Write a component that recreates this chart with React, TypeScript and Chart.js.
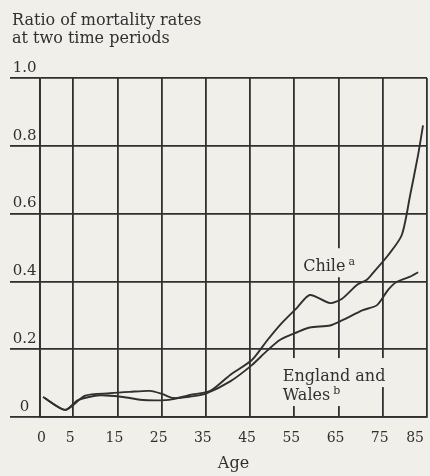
import React, { useEffect, useRef } from "react";
import { Chart, registerables } from "chart.js";

Chart.register(...registerables);

// ---- data ----
// x positions in years of age on the figure's axis (the left axis line sits at AXIS_START)
const chileAges = [-1.8, 3.2, 6.1, 11.1, 16.3, 20.1, 24.0, 27.3, 31.4, 36.0, 40.5, 45.4, 48.8, 51.8, 55.6, 58.5, 63.1, 65.8, 69.2, 71.4, 72.8, 76.2, 79.3, 81.2, 83.0, 84.1];
const chileRatios = [0.059, 0.021, 0.05, 0.064, 0.059, 0.051, 0.049, 0.052, 0.065, 0.077, 0.124, 0.168, 0.225, 0.272, 0.322, 0.36, 0.336, 0.349, 0.39, 0.405, 0.425, 0.477, 0.537, 0.655, 0.774, 0.86];

const englandAges = [-1.8, 3.2, 7.7, 13.3, 17.8, 22.4, 25.1, 27.6, 31.4, 35.0, 40.5, 45.4, 48.8, 51.8, 55.6, 58.5, 63.1, 65.8, 70.5, 73.7, 76.2, 78.2, 81.2, 83.0];
const englandRatios = [0.059, 0.021, 0.063, 0.07, 0.074, 0.077, 0.068, 0.056, 0.06, 0.069, 0.105, 0.153, 0.195, 0.228, 0.25, 0.264, 0.27, 0.285, 0.315, 0.33, 0.375, 0.399, 0.414, 0.427];

const AXIS_START = -2.5;
const AXIS_END = 85;
const xTickValues = [AXIS_START, 5, 15, 25, 35, 45, 55, 65, 75, 85];
const xTickLabels = ["0", "5", "15", "25", "35", "45", "55", "65", "75", "85"];
const yTickValues = [0, 0.2, 0.4, 0.6, 0.8, 1.0];
const yTickLabels = ["0", "0.2", "0.4", "0.6", "0.8", "1.0"];

const titleLines = ["Ratio of mortality rates", "at two time periods"];
const xTitle = "Age";

const seriesLabels = [
  { lines: [{ text: "Chile", sup: "a" }], age: 57.0, value: 0.43 },
  { lines: [{ text: "England and", sup: "" }, { text: "Wales", sup: "b" }], age: 52.4, value: 0.106 },
];

// ---- styles ----
const BG = "#f0efea";
const INK = "#303030";
const FAMILY = '"DejaVu Serif", serif';

const labelPlugin = {
  id: "seriesLabels",
  afterLayout(chart: any) {
    // let the y tick labels use the whole left margin (no clipping at the layout padding)
    chart.scales.y.left = 0;
  },
  afterDatasetsDraw(chart: any) {
    const { ctx } = chart;
    const xs = chart.scales.x;
    const ys = chart.scales.y;
    ctx.save();
    for (const lab of seriesLabels) {
      const left = xs.getPixelForValue(lab.age);
      const base0 = ys.getPixelForValue(lab.value);
      let prevBottom = base0 - 23;
      lab.lines.forEach((ln, i) => {
        const baseline = base0 + i * 19;
        ctx.font = `16px ${FAMILY}`;
        const w = ctx.measureText(ln.text).width;
        ctx.font = `11px ${FAMILY}`;
        const sw = ln.sup ? ctx.measureText(ln.sup).width + 3 : 0;
        const top = prevBottom;
        const bottom = baseline + 6;
        ctx.fillStyle = BG;
        ctx.fillRect(left - 4, top, w + sw + 8, bottom - top);
        prevBottom = bottom;
        ctx.fillStyle = INK;
        ctx.textBaseline = "alphabetic";
        ctx.textAlign = "left";
        ctx.font = `16px ${FAMILY}`;
        ctx.fillText(ln.text, left, baseline);
        if (ln.sup) {
          ctx.font = `11px ${FAMILY}`;
          ctx.fillText(ln.sup, left + w + 3, baseline - 6);
        }
      });
    }
    ctx.restore();
  },
};

export default function App() {
  const ref = useRef<HTMLCanvasElement | null>(null);

  useEffect(() => {
    if (!ref.current) return;
    const chart = new Chart(ref.current, {
      type: "line",
      data: {
        datasets: [
          {
            label: "Chile",
            data: chileAges.map((a, i) => ({ x: a, y: chileRatios[i] })),
            borderColor: INK,
            borderWidth: 1.9,
            pointRadius: 0,
            tension: 0.25,
            fill: false,
          },
          {
            label: "England and Wales",
            data: englandAges.map((a, i) => ({ x: a, y: englandRatios[i] })),
            borderColor: INK,
            borderWidth: 1.9,
            pointRadius: 0,
            tension: 0.25,
            fill: false,
          },
        ],
      },
      options: {
        responsive: false,
        animation: false,
        devicePixelRatio: 1,
        layout: { padding: { left: 12, top: 12, right: 3, bottom: 0 } },
        plugins: {
          legend: { display: false },
          tooltip: { enabled: false },
          title: {
            display: true,
            text: titleLines,
            align: "start",
            color: INK,
            font: { family: FAMILY, size: 16, weight: "normal", lineHeight: 1.125 },
            padding: { top: 0, bottom: 30 },
          },
        },
        scales: {
          x: {
            type: "linear",
            min: AXIS_START,
            max: AXIS_END,
            afterBuildTicks: (s: any) => {
              s.ticks = xTickValues.map((v) => ({ value: v }));
            },
            afterFit: (s: any) => {
              s.height = 59;
              s.paddingLeft = 0;
              s.paddingRight = 0;
            },
            ticks: {
              callback: (_v: any, i: number) => xTickLabels[i],
              align: "inner",
              labelOffset: -3,
              padding: 13,
              autoSkip: false,
              maxRotation: 0,
              color: INK,
              font: { family: FAMILY, size: 14 },
            },
            grid: { color: INK, lineWidth: 1.8, drawTicks: false },
            border: { display: true, color: INK, width: 1.8 },
            title: {
              display: true,
              text: xTitle,
              color: INK,
              font: { family: FAMILY, size: 16 },
              padding: { top: 6, bottom: 3 },
            },
          },
          y: {
            type: "linear",
            min: 0,
            max: 1,
            afterBuildTicks: (s: any) => {
              s.ticks = yTickValues.map((v) => ({ value: v }));
            },
            afterFit: (s: any) => {
              s.width = 28;
            },
            ticks: {
              callback: (_v: any, i: number) => yTickLabels[i],
              crossAlign: "center",
              padding: -26.5,
              labelOffset: -10,
              color: INK,
              font: { family: FAMILY, size: 15 },
            },
            grid: { color: INK, lineWidth: 1.8, tickLength: 30 },
            border: { display: true, color: INK, width: 1.8 },
          },
        },
      },
      plugins: [labelPlugin],
    } as any);
    return () => chart.destroy();
  }, []);

  return (
    <div style={{ position: "absolute", left: 0, top: 0, width: 430, height: 476, background: BG }}>
      <canvas ref={ref} width={430} height={476} style={{ display: "block" }} />
    </div>
  );
}
